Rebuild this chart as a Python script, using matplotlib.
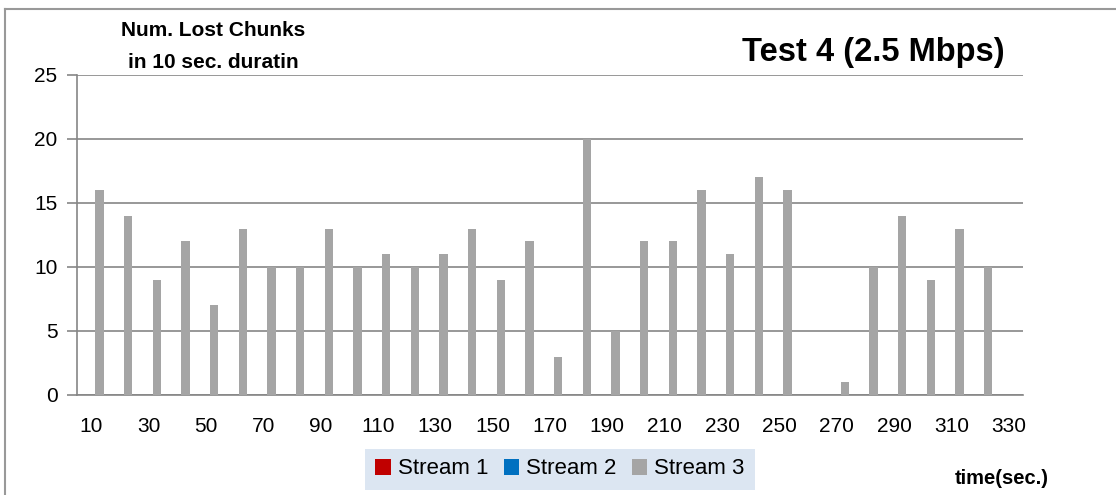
import numpy as np
import matplotlib
matplotlib.use('Agg')
import matplotlib.pyplot as plt
from matplotlib.lines import Line2D
from matplotlib.patches import Patch

plt.rcParams['font.family'] = ['Liberation Sans', 'DejaVu Sans']

# time (sec.) categories and lost chunks per stream
times = list(range(10, 340, 10))
stream1 = [0] * len(times)
stream2 = [0] * len(times)
stream3 = [16, 14, 9, 12, 7, 13, 10, 10, 13, 10, 11, 10, 11, 13, 9, 12, 3,
           20, 5, 12, 12, 16, 11, 17, 16, 0, 1, 10, 14, 9, 13, 10, 0]
series_names = ['Stream 1', 'Stream 2', 'Stream 3']
series_colors = ['#C00000', '#0070C0', '#A5A5A5']
yticks = [0, 5, 10, 15, 20, 25]

W, H = 1116, 495
fig = plt.figure(figsize=(W / 100, H / 100), dpi=100)
ax = fig.add_axes([77 / W, 1 - 395 / H, (1023 - 77) / W, (395 - 75) / H])

x = np.arange(len(times))
bw = 0.29
for i, (vals, name, col) in enumerate(zip([stream1, stream2, stream3], series_names, series_colors)):
    ax.bar(x + (i - 1) * bw, vals, width=bw, color=col, zorder=3, label=name)

ax.set_xlim(-0.5, len(times) - 0.5)
ax.set_ylim(0, 25)
ax.set_yticks(yticks)
ax.set_xticks(x[::2])
ax.set_xticklabels([str(t) for t in times[::2]])
ax.tick_params(axis='x', length=0, pad=16, labelsize=15)
ax.tick_params(axis='y', length=7, width=1.2, color='#868686', pad=7, labelsize=15)
ax.yaxis.grid(True, color='#868686', linewidth=1.2, zorder=0)
ax.set_axisbelow(True)
for s in ['top', 'right']:
    ax.spines[s].set_visible(False)
for s in ['left', 'bottom']:
    ax.spines[s].set_color('#868686')
    ax.spines[s].set_linewidth(1.2)

# titles
fig.text(873 / W, 1 - 52 / H, 'Test 4 (2.5 Mbps)', ha='center', va='center',
         fontsize=23.5, fontweight='bold')
fig.text(213 / W, 1 - 31 / H, 'Num. Lost Chunks', ha='center', va='center',
         fontsize=15, fontweight='bold')
fig.text(213 / W, 1 - 62 / H, 'in 10 sec. duratin', ha='center', va='center',
         fontsize=15, fontweight='bold')
fig.text(1002 / W, 1 - 478 / H, 'time(sec.)', ha='center', va='center',
         fontsize=14.5, fontweight='bold')

# legend
handles = [Patch(facecolor=c, edgecolor='none') for c in series_colors]
leg = fig.legend(handles, series_names, loc='center', bbox_to_anchor=(560 / W, 1 - 469 / H),
                 ncol=3, frameon=True, fontsize=16, handlelength=0.7, handleheight=0.7,
                 handletextpad=0.3, columnspacing=0.7, borderpad=0.45, borderaxespad=0,
                 fancybox=False)
leg.get_frame().set_facecolor('#DCE6F2')
leg.get_frame().set_edgecolor('none')
leg.get_frame().set_alpha(1)

# outer chart border (left and top visible)
fig.add_artist(Line2D([5 / W, 5 / W], [0, 1 - 9 / H], color='#999999', linewidth=1.5))
fig.add_artist(Line2D([5 / W, 1], [1 - 9 / H, 1 - 9 / H], color='#999999', linewidth=1.5))

fig.savefig('out.png', dpi=100)
